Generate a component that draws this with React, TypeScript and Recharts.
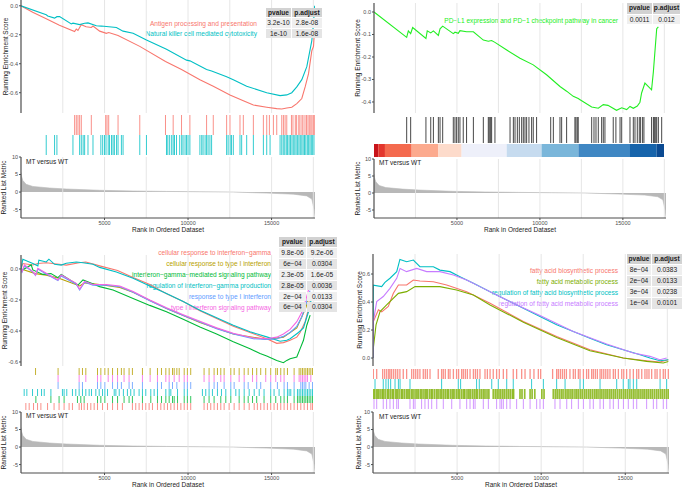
import React from 'react';
import {
  LineChart, Line, AreaChart, Area, ComposedChart, Scatter,
  XAxis, YAxis, ReferenceArea, ReferenceLine,
} from 'recharts';

const FONT = '"Liberation Sans", Arial, Helvetica, sans-serif';
const AXIS = '#4D4D4D';
const GRID = '#E3E3E3';

const RANK_MAX = 17600;
const RANK_TICKS = [5000, 10000, 15000];
const GRID_RANKS = [2500, 5000, 7500, 10000, 12500, 15000, 17500];
const METRIC_TICKS = [-5, 0, 5, 10];

// ranked list metric, [rank, metric]
const metricCurve = [
  [0, 5.6], [30, 4.5], [110, 3.3], [310, 2.2], [710, 1.6], [1710, 1.15], [2710, 0.87],
  [4710, 0.5], [6710, 0.3], [8710, 0.18], [10710, 0.08], [12710, 0], [14710, -0.3],
  [16310, -0.6], [17110, -1.1], [17410, -2], [17550, -5], [17600, -7.2],
];

// ---- panel A: antigen / NK
const esAntigen = [
  [0, 0], [700, -0.045], [1510, -0.09], [2300, -0.135], [3210, -0.178], [3310, -0.16], [3410, -0.17],
  [3510, -0.15], [3610, -0.13], [3900, -0.145], [4210, -0.15], [4310, -0.14], [4710, -0.175],
  [5110, -0.19], [5250, -0.185], [5810, -0.205], [7110, -0.28], [8650, -0.385], [9610, -0.44],
  [10710, -0.51], [11510, -0.555], [12510, -0.615], [13310, -0.655], [13910, -0.685], [14710, -0.7],
  [15310, -0.71], [15610, -0.712], [15910, -0.705], [16210, -0.7], [16510, -0.675], [16810, -0.64],
  [17010, -0.56], [17210, -0.47], [17410, -0.31], [17510, -0.28], [17560, -0.19],
];
const esNK = [
  [0, 0], [1510, -0.062], [1600, -0.07], [2010, -0.085], [2150, -0.075], [2310, -0.074], [3010, -0.125],
  [3110, -0.12], [3510, -0.13], [3810, -0.12], [4010, -0.118], [4510, -0.138], [4810, -0.14],
  [5110, -0.143], [5710, -0.15], [6110, -0.175], [6710, -0.19], [7510, -0.236], [8710, -0.3],
  [9910, -0.375], [10110, -0.38], [11110, -0.44], [11410, -0.45], [12310, -0.49], [12710, -0.51],
  [13510, -0.555], [14710, -0.6], [15510, -0.62], [15910, -0.615], [16210, -0.6], [16510, -0.56],
  [16810, -0.51], [17110, -0.42], [17410, -0.24], [17510, -0.12], [17580, 0],
];
const hitsAntigen = [
  3210, 3310, 3410, 3510, 3610, 4210, 5070, 5150, 5250, 5810, 7110, 8650, 9110, 9610, 10110, 11110,
  11510, 12310, 12510, 13110, 13310, 13910, 14510, 14710, 14870, 15110, 15310, 15610, 15710, 15810,
  15910, 16190, 16280, 16420, 16500, 16630, 16700, 16820, 16880, 17000, 17090, 17180, 17260, 17350,
  17420, 17500, 17560,
];
const hitsNK = [
  1510, 2010, 2150, 3110, 3510, 3610, 3720, 3810, 4010, 4310, 4780, 4890, 5000, 5090, 5220, 5300,
  5420, 5510, 5590, 5720, 5810, 6010, 6110, 7110, 7510, 8710, 8790, 8900, 9020, 9110, 9190, 9310,
  9500, 9620, 9700, 9820, 9910, 10000, 10110, 10710, 10820, 10900, 11020, 11110, 11200, 11310, 11410,
  12310, 12400, 12520, 12600, 12710, 13110, 13210, 13510, 13910, 14510, 14710, 14910, 15510, 15610,
  15700, 15790, 15880, 15960, 16050, 16130, 16220, 16300, 16390, 16470, 16560, 16640, 16720, 16810,
  16890, 16970, 17050, 17140, 17220, 17300, 17380, 17460, 17540,
];

// ---- panel B: PD-L1
const esPDL1 = [
  [0, 0], [1970, -0.113], [2070, -0.084], [2210, -0.096], [2330, -0.069], [3130, -0.118], [3210, -0.084],
  [3420, -0.093], [3580, -0.084], [3880, -0.104], [3980, -0.075], [4140, -0.063], [4780, -0.096],
  [4880, -0.09], [5080, -0.095], [5180, -0.083], [5580, -0.088], [5990, -0.088], [6590, -0.125],
  [6890, -0.13], [7090, -0.127], [7290, -0.135], [8000, -0.169], [8800, -0.206], [9600, -0.235],
  [10400, -0.279], [11210, -0.331], [11610, -0.352], [12010, -0.375], [12310, -0.385], [12420, -0.39],
  [13120, -0.422], [13520, -0.428], [13820, -0.412], [14100, -0.415], [14620, -0.437], [14930, -0.426],
  [15230, -0.434], [15430, -0.42], [15630, -0.428], [15870, -0.418], [16030, -0.401], [16130, -0.36],
  [16330, -0.316], [16730, -0.346], [16840, -0.265], [16940, -0.169], [17040, -0.074], [17140, -0.066],
];
const hitsPDL1 = [
  1970, 2210, 3130, 3420, 3580, 3880, 3980, 4140, 4780, 4880, 4980, 5080, 5180, 5380, 5580, 5990,
  6590, 6890, 6950, 7030, 7090, 7290, 8200, 8400, 8500, 8640, 8760, 8900, 9000, 9100, 9200, 9340,
  9500, 9600, 9800, 10650, 10810, 11210, 11310, 11610, 12110, 12170, 12250, 12310, 13120, 13260,
  13380, 13520, 13720, 13820, 13920, 14420, 14580, 14830, 14930, 15430, 15630, 15730, 15870, 15990,
  16070, 16190, 16270, 16730, 16840, 16900, 16980, 17040, 17140, 17340,
];
const heatEdges = [0, 260, 660, 2270, 3880, 5280, 8000, 10100, 12320, 15430, 17040, 17480];
const heatColors = [
  '#C8141B', '#E3362C', '#F46A4E', '#FCAA8E', '#FDDBCB', '#EEF0FA',
  '#C6DBEF', '#7AB6DA', '#3F87C3', '#1764AB', '#0B4A92',
];

// ---- panel C: interferon sets
const esIfnGammaResp = [
  [0, 0], [110, 0.035], [710, 0.026], [1010, 0.035], [1510, 0.04], [2280, 0.03], [2710, 0.025],
  [3480, 0.04], [3880, 0.045], [4380, 0.03], [4710, 0.02], [5780, -0.01], [6710, -0.055], [7710, -0.1],
  [8710, -0.16], [9710, -0.21], [10710, -0.27], [11710, -0.32], [12710, -0.37], [13710, -0.41],
  [14710, -0.45], [15310, -0.48], [15710, -0.475], [16110, -0.46], [16510, -0.44], [16710, -0.41],
  [17010, -0.34], [17210, -0.26], [17410, -0.15],
];
const esTypeIResp = [
  [0, 0], [870, -0.03], [1510, -0.04], [2270, -0.06], [3510, -0.11], [3810, -0.09], [4710, -0.1],
  [5910, -0.12], [6710, -0.15], [8710, -0.255], [10710, -0.345], [12710, -0.42], [14710, -0.455],
  [15710, -0.44], [16510, -0.38], [17050, -0.25], [17310, -0.16],
];
const esIfnGammaSignal = [
  [0, 0], [60, -0.008], [610, 0.026], [710, -0.006], [1310, -0.035], [1790, -0.03], [2210, -0.056],
  [2410, -0.035], [3410, -0.104], [3710, -0.071], [4710, -0.114], [5510, -0.136], [6710, -0.19],
  [7710, -0.235], [8710, -0.276], [9710, -0.325], [10710, -0.374], [11710, -0.42], [12710, -0.47],
  [13710, -0.515], [14310, -0.546], [14710, -0.562], [15310, -0.59], [15710, -0.605], [15910, -0.59],
  [16110, -0.579], [16510, -0.568], [16710, -0.514], [16910, -0.46], [17110, -0.363], [17310, -0.298],
];
const esIfnGammaProd = [
  [0, 0], [110, 0.063], [710, 0.035], [1010, 0.02], [1070, 0.056], [1510, 0.045], [1670, 0.063],
  [2010, 0.03], [2410, 0.025], [2710, 0.037], [3310, 0.045], [3710, 0.04], [4310, 0.03], [4710, 0.01],
  [5710, -0.02], [6710, -0.06], [7710, -0.11], [8710, -0.158], [9710, -0.21], [10710, -0.266],
  [11710, -0.315], [12710, -0.363], [13710, -0.405], [14710, -0.438], [15510, -0.466], [15910, -0.46],
  [16110, -0.45], [16610, -0.41], [16910, -0.38], [17210, -0.276], [17410, -0.18],
];
const esTypeI = [
  [0, 0], [60, -0.02], [210, 0.02], [710, -0.02], [870, -0.042], [1010, 0], [1510, -0.032],
  [2210, -0.075], [2410, -0.045], [3310, -0.098], [3510, -0.135], [3810, -0.085], [4310, -0.105],
  [5110, -0.105], [5910, -0.115], [6710, -0.15], [7710, -0.205], [8710, -0.255], [9710, -0.3],
  [10710, -0.342], [11710, -0.385], [12710, -0.42], [13910, -0.45], [14710, -0.455], [15310, -0.45],
  [15710, -0.435], [16110, -0.41], [16510, -0.37], [16810, -0.31], [17050, -0.23], [17300, -0.14],
];
const esTypeISignal = [
  [0, 0], [60, -0.017], [210, 0.026], [710, -0.017], [870, -0.039], [1010, 0.004], [1510, -0.028],
  [2210, -0.071], [2410, -0.039], [3310, -0.093], [3510, -0.13], [3810, -0.08], [4310, -0.1],
  [5110, -0.1], [5910, -0.11], [6710, -0.145], [7710, -0.2], [8710, -0.25], [9710, -0.295],
  [10710, -0.338], [11710, -0.38], [12710, -0.415], [13910, -0.445], [14710, -0.45], [15310, -0.44],
  [15710, -0.42], [16110, -0.39], [16510, -0.34], [16810, -0.28], [17050, -0.2], [17300, -0.1],
];
const hitsTypeIResp = [
  870, 2220, 3480, 3680, 3880, 4580, 4780, 5020, 5220, 5480, 5780, 6010, 6170, 6470, 6670, 7270, 7730,
  8170, 8410, 8670, 8870, 9070, 9170, 9330, 9470, 9770, 9960, 10160, 10960, 11260, 11560, 11760, 11960,
  12160, 12560, 12760, 13060, 13360, 13600, 13860, 14110, 14350, 14650, 14950, 15250, 15350, 15550,
  15750, 15950, 16350, 16650, 16750, 16850, 16950, 17050, 17150, 17250, 17350, 17450,
];
const hitsTypeISignal = [
  2220, 3480, 3880, 4580, 4780, 5220, 5480, 5780, 6170, 6470, 7270, 7730, 8170, 8670, 8870, 9170, 9470,
  9770, 9960, 10960, 11260, 11560, 11960, 12160, 12560, 13060, 13360, 13860, 14110, 14650, 14950, 15250,
  15550, 15750, 16350, 16650, 16750, 16850, 16950, 17050, 17150, 17350,
];
const hitsTypeI = [
  2220, 3480, 3680, 4580, 4780, 5020, 5480, 5780, 6010, 6470, 6670, 7270, 8170, 8410, 8870, 9070, 9330,
  9770, 9960, 10160, 11260, 11560, 11760, 12160, 12560, 12760, 13360, 13600, 14110, 14350, 14950, 15350,
  15750, 15950, 16350, 16750, 16850, 16950, 17050, 17250, 17450,
];
const hitsIfnGammaProd = [
  190, 350, 690, 990, 1230, 1390, 1790, 2480, 2580, 2740, 3080, 3280, 3480, 3680, 3880, 4080, 4220,
  4480, 4680, 4880, 5020, 5180, 5580, 5680, 5880, 6130, 6370, 6570, 6770, 7070, 7270, 7470, 7770, 7970,
  8170, 8670, 8870, 8970, 9370, 9770, 9960, 10860, 11060, 11260, 11460, 11760, 12000, 12260, 12560,
  12860, 13060, 13360, 13660, 13960, 14260, 14550, 14950, 15150, 15450, 15750, 15950, 16050, 16150,
  16350, 16550, 16650, 16750, 16850, 16950, 17050, 17150, 17250, 17350, 17450,
];
const hitsIfnGammaSignal = [
  890, 1790, 2280, 2580, 3380, 3580, 3780, 4580, 4780, 5020, 5480, 5780, 6170, 6470, 6670, 7270, 7770,
  8170, 8410, 8670, 8870, 9070, 9170, 9370, 9770, 9960, 10160, 10960, 11260, 11560, 11960, 12260,
  12560, 13060, 13360, 13600, 13860, 14110, 14550, 14950, 15250, 15550, 15750, 15950, 16350, 16550,
  16650, 16750, 16850, 16950, 17050, 17150, 17250, 17350, 17450,
];
const hitsIfnGammaResp = [
  290, 490, 750, 990, 1190, 1590, 1980, 2280, 2580, 2880, 3080, 3480, 3620, 3780, 3980, 4180, 4380,
  4580, 4880, 5180, 5480, 5780, 6070, 6670, 6870, 7070, 7270, 7470, 7670, 7870, 8170, 8370, 8570, 8770,
  8970, 9170, 9370, 9570, 9770, 9960, 10160, 10960, 11160, 11360, 11560, 11760, 11960, 12160, 12460,
  12760, 13060, 13360, 13660, 13960, 14150, 14350, 14550, 14750, 14950, 15150, 15350, 15550, 15750,
  15950, 16150, 16350, 16550, 16750, 16950, 17150, 17350, 17450,
];

// ---- panel D: fatty acid sets
const esFaBio = [
  [0, 0], [20, 0.26], [320, 0.344], [520, 0.33], [910, 0.368], [1210, 0.462], [1510, 0.522],
  [2000, 0.522], [2400, 0.557], [2790, 0.55], [3590, 0.545], [4380, 0.522], [5570, 0.474],
  [6960, 0.391], [8940, 0.261], [10920, 0.154], [12900, 0.059], [14880, 0], [16270, -0.019],
  [17060, -0.028], [17560, -0.012],
];
const esFaMeta = [
  [0, 0], [20, 0.071], [180, 0.237], [420, 0.332], [810, 0.379], [1510, 0.462], [2000, 0.474],
  [2500, 0.51], [3190, 0.51], [3980, 0.51], [4970, 0.486], [5970, 0.45], [6960, 0.379], [8940, 0.256],
  [10920, 0.147], [12900, 0.052], [14880, 0], [16270, -0.024], [17260, -0.036], [17560, -0.025],
];
const esFaBioReg = [
  [0, 0], [20, 0.52], [515, 0.51], [710, 0.54], [1010, 0.57], [1410, 0.617], [1600, 0.704],
  [2000, 0.688], [2400, 0.7], [2790, 0.652], [3590, 0.652], [3980, 0.628], [4580, 0.617],
  [5170, 0.581], [5970, 0.534], [6960, 0.474], [7950, 0.415], [8940, 0.356], [9930, 0.296],
  [10920, 0.237], [11910, 0.19], [12900, 0.142], [13890, 0.095], [14880, 0.059], [15880, 0.024],
  [16470, 0], [17060, -0.019], [17560, -0.012],
];
const esFaMetaReg = [
  [0, 0], [20, 0.26], [220, 0.403], [610, 0.439], [1010, 0.498], [1410, 0.569], [1610, 0.64],
  [2000, 0.617], [2600, 0.64], [3190, 0.617], [3980, 0.617], [4780, 0.593], [5570, 0.557],
  [6360, 0.51], [7350, 0.45], [8340, 0.391], [9930, 0.303], [11910, 0.19], [13890, 0.1],
  [15480, 0.036], [16470, 0.012], [17060, -0.012], [17460, 0],
];
const hitsFaBio = [
  20, 220, 575, 695, 815, 935, 1010, 1110, 1230, 1350, 1470, 1600, 1800, 2000, 2300, 2420, 2540, 2660,
  2790, 2990, 3110, 3230, 3390, 3880, 4080, 4180, 4300, 4480, 4580, 4780, 4970, 5090, 5270, 5370, 5490,
  5610, 5770, 5970, 6090, 6210, 6360, 6660, 6800, 6960, 7150, 7350, 7510, 7750, 7950, 8340, 8540, 8840,
  9040, 9340, 9570, 9830, 9970, 10680, 10920, 11020, 11140, 11260, 11380, 11500, 11710, 11910, 12030,
  12210, 12310, 12510, 12700, 12820, 13000, 13100, 13220, 13340, 13500, 13600, 13720, 13840, 13960,
  14090, 14290, 14410, 14590, 14790, 14910, 15080, 15280, 15480, 15680, 15800, 15980, 16170, 16290,
  16410, 16570, 16770, 16890, 17070, 17260, 17380, 17560,
];
const hitsFaBioReg = [
  120, 610, 770, 910, 1050, 1310, 1510, 1610, 2200, 4080, 5070, 5210, 6160, 6320, 7060, 7450, 7950,
  8340, 9430, 10130, 10920, 11420, 12310, 12510, 13500, 14490, 14880, 15180, 15280, 15480, 15680,
  17070, 17460,
];
const hitsFaMeta = [
  20, 110, 230, 310, 420, 540, 610, 720, 850, 930, 1040, 1150, 1230, 1360, 1440, 1550, 1680, 1760,
  1870, 1990, 2080, 2170, 2290, 2380, 2500, 2610, 2700, 2820, 2910, 3030, 3140, 3220, 3350, 3460,
  3540, 3660, 3780, 3870, 3990, 4090, 4200, 4310, 4420, 4500, 4630, 4740, 4820, 4950, 5060, 5150,
  5270, 5380, 5460, 5590, 5700, 5790, 5910, 6020, 6130, 6210, 6340, 6450, 6560, 6660, 6780, 6890,
  7150, 7270, 7380, 7490, 7600, 7720, 7830, 7950, 8060, 8170, 8290, 8360, 8740, 8860, 9020, 9340,
  9460, 9620, 10040, 10170, 10720, 10840, 10950, 11070, 11190, 11300, 11430, 11540, 11650, 11770,
  11880, 12010, 12120, 12230, 12350, 12460, 12580, 12690, 12810, 12920, 13040, 13160, 13270, 13380,
  13500, 13610, 13730, 13850, 13960, 14080, 14190, 14310, 14420, 14540, 14660, 14770, 14890, 15000,
  15120, 15240, 15350, 15470, 15580, 15700, 15810, 15930, 16050, 16160, 16280, 16390, 16510, 16620,
  16740, 16860, 16970, 17090, 17200, 17320, 17440, 17550,
];
const hitsFaMetaReg = [
  60, 220, 610, 810, 1010, 1210, 1410, 1510, 2200, 2400, 2500, 2890, 3090, 3290, 3490, 3790, 4180,
  4680, 5170, 5570, 5770, 5970, 6070, 6560, 6860, 7350, 7550, 7650, 7750, 7950, 8150, 8540, 8940,
  9340, 9730, 9930, 10130, 10820, 11120, 11520, 11810, 12210, 12510, 12900, 13100, 13500, 13700,
  14090, 14290, 14590, 14890, 15180, 15480, 15680, 16270, 16670, 16870, 17260, 17460,
];

const RED = '#F8766D';

const panels = [
  {
    axisX: 21, yw: 21, plotW: 294,
    es: { top: 0, height: 113, domain: [-0.74, 0.04], ticks: [-0.6, -0.4, -0.2, 0], titleOffset: 5.5 },
    series: [
      { name: 'Antigen processing and presentation', color: RED, points: esAntigen },
      { name: 'Natural killer cell mediated cytotoxicity', color: '#00BFC4', points: esNK },
    ],
    hits: {
      top: 115, height: 40,
      rows: [
        { color: RED, hits: hitsAntigen, y0: 0, y1: 20 },
        { color: '#00BFC4', hits: hitsNK, y0: 20, y1: 40 },
      ],
    },
    rank: { top: 157, plotH: 61, domain: [-7.4, 10], titleOffset: 4 },
    legend: { right: 257, centers: [24, 34] },
    table: { x: 266, y: 8, cols: [26, 31], rowHs: [10, 10.5, 10.5], pvalue: ['3.2e-10', '1e-10'], padj: ['2.8e-08', '1.6e-08'] },
    mt: { x: 26, y: 162 },
  },
  {
    axisX: 374, yw: 22, plotW: 292,
    es: { top: 3, height: 110, domain: [-0.449, 0.04], ticks: [-0.4, -0.3, -0.2, -0.1, 0], titleOffset: 5.5 },
    series: [
      { name: 'PD\u2212L1 expression and PD\u22121 checkpoint pathway in cancer', color: '#22EE22', points: esPDL1 },
    ],
    hits: {
      top: 117, height: 40, heat: true,
      rows: [{ color: '#1A1A1A', hits: hitsPDL1, y0: 0, y1: 26 }],
    },
    rank: { top: 159, plotH: 59, domain: [-7.35, 10], titleOffset: 5.5 },
    legend: { right: 618, centers: [21] },
    table: { x: 627, y: 3, cols: [26, 28], rowHs: [11.5, 10.5], pvalue: ['0.0011'], padj: ['0.012'] },
    mt: { x: 379, y: 163 },
  },
  {
    axisX: 21, yw: 21, plotW: 294,
    es: { top: 255, height: 111, domain: [-0.626, 0.09], ticks: [-0.6, -0.4, -0.2, 0], titleOffset: 5 },
    series: [
      { name: 'cellular response to interferon\u2212gamma', color: RED, points: esIfnGammaResp },
      { name: 'cellular response to type I interferon', color: '#B79F00', points: esTypeIResp },
      { name: 'interferon\u2212gamma\u2212mediated signaling pathway', color: '#00BA38', points: esIfnGammaSignal },
      { name: 'regulation of interferon\u2212gamma production', color: '#00BFC4', points: esIfnGammaProd },
      { name: 'response to type I interferon', color: '#619CFF', points: esTypeI },
      { name: 'type I interferon signaling pathway', color: '#F564E3', points: esTypeISignal },
    ],
    hits: {
      top: 368, height: 42,
      rows: [
        { color: '#B79F00', hits: hitsTypeIResp, y0: 0, y1: 7 },
        { color: '#F564E3', hits: hitsTypeISignal, y0: 7, y1: 14 },
        { color: '#619CFF', hits: hitsTypeI, y0: 14, y1: 21 },
        { color: '#00BFC4', hits: hitsIfnGammaProd, y0: 21, y1: 28 },
        { color: '#00BA38', hits: hitsIfnGammaSignal, y0: 28, y1: 35 },
        { color: RED, hits: hitsIfnGammaResp, y0: 35, y1: 42 },
      ],
    },
    rank: { top: 412, plotH: 61, domain: [-7.4, 10], titleOffset: 4 },
    legend: { right: 271, centers: [253, 264, 275, 286, 297, 308] },
    table: {
      x: 279, y: 237, cols: [28, 31], rowHs: [10.9],
      pvalue: ['9.8e-06', '6e\u221204', '2.3e-05', '2.8e-05', '2e\u221204', '6e\u221204'],
      padj: ['9.2e-06', '0.0304', '1.6e-05', '0.0036', '0.0133', '0.0304'],
    },
    mt: { x: 26, y: 416 },
  },
  {
    axisX: 373, yw: 20, plotW: 296,
    es: { top: 254, height: 112, domain: [-0.057, 0.743], ticks: [0, 0.2, 0.4, 0.6], titleOffset: 6.5 },
    series: [
      { name: 'fatty acid biosynthetic process', color: RED, points: esFaBio },
      { name: 'fatty acid metabolic process', color: '#7CAE00', points: esFaMeta },
      { name: 'regulation of fatty acid biosynthetic process', color: '#00BFC4', points: esFaBioReg },
      { name: 'regulation of fatty acid metabolic process', color: '#C77CFF', points: esFaMetaReg },
    ],
    hits: {
      top: 369, height: 40,
      rows: [
        { color: RED, hits: hitsFaBio, y0: 0, y1: 10, w: 1.3 },
        { color: '#00BFC4', hits: hitsFaBioReg, y0: 10, y1: 20 },
        { color: '#7CAE00', hits: hitsFaMeta, y0: 20, y1: 30, w: 1.7 },
        { color: '#C77CFF', hits: hitsFaMetaReg, y0: 30, y1: 40 },
      ],
    },
    rank: { top: 412, plotH: 61, domain: [-7.4, 10], titleOffset: 6 },
    legend: { right: 618, centers: [271, 282, 293, 304] },
    table: {
      x: 627, y: 254, cols: [25, 31], rowHs: [10.5, 11.3],
      pvalue: ['8e\u221204', '2e\u221204', '3e\u221204', '1e\u221204'],
      padj: ['0.0383', '0.0133', '0.0238', '0.0101'],
    },
    mt: { x: 379, y: 417 },
  },
];

const tickStyle = { fontSize: 5.5, fill: AXIS, fontFamily: FONT };
const titleStyle = { textAnchor: 'middle', fontSize: 6.5, fill: '#1A1A1A', fontFamily: FONT } as any;
const PAD_TOP = 5; // room for the top tick label

const gridLines = GRID_RANKS.map((v) => (
  <ReferenceLine key={'g' + v} x={v} stroke={GRID} strokeWidth={0.9} ifOverflow="hidden" />
));

function EsPlot({ p }: { p: any }) {
  const { es } = p;
  return (
    <div style={{ position: 'absolute', left: p.axisX - p.yw, top: es.top - PAD_TOP }}>
      <LineChart width={p.yw + p.plotW} height={es.height + PAD_TOP} margin={{ top: PAD_TOP, right: 0, bottom: 0, left: 0 }}>
        <XAxis type="number" dataKey="x" domain={[0, RANK_MAX]} hide allowDataOverflow />
        <YAxis
          type="number" domain={es.domain} ticks={es.ticks} interval={0} width={p.yw} allowDataOverflow
          tick={tickStyle} tickSize={2} tickMargin={1} tickFormatter={(v: number) => v.toFixed(1)}
          axisLine={{ stroke: AXIS, strokeWidth: 1.2 }} tickLine={{ stroke: AXIS }}
          label={{ value: 'Running Enrichment Score', angle: -90, position: 'insideLeft', offset: es.titleOffset, style: titleStyle }}
        />
        {gridLines}
        {p.series.map((s: any) => (
          <Line
            key={s.name} data={s.points.map(([x, y]: number[]) => ({ x, y }))} dataKey="y"
            type="linear" stroke={s.color} strokeWidth={1.1} dot={false} isAnimationActive={false}
          />
        ))}
      </LineChart>
    </div>
  );
}

function HitsPlot({ p }: { p: any }) {
  const { hits } = p;
  return (
    <div style={{ position: 'absolute', left: p.axisX, top: hits.top }}>
      <ComposedChart width={p.plotW} height={hits.height} margin={{ top: 0, right: 0, bottom: 0, left: 0 }}>
        <XAxis type="number" dataKey="x" domain={[0, RANK_MAX]} hide allowDataOverflow />
        <YAxis type="number" dataKey="y" domain={[0, hits.height]} reversed hide allowDataOverflow />
        {hits.heat && heatColors.map((c, i) => (
          <ReferenceArea key={c} x1={heatEdges[i]} x2={heatEdges[i + 1]} y1={27} y2={hits.height} fill={c} fillOpacity={1} stroke="none" />
        ))}
        {hits.rows.map((r: any, i: number) => {
          const half = (r.y1 - r.y0) / 2;
          const mid = (r.y0 + r.y1) / 2;
          return (
            <Scatter
              key={i} data={r.hits.map((x: number) => ({ x, y: mid }))} isAnimationActive={false}
              shape={(s: any) => (
                <line x1={s.cx} x2={s.cx} y1={s.cy - half} y2={s.cy + half}
                  stroke={r.color} strokeWidth={r.w ?? 1} strokeOpacity={0.8} />
              )}
            />
          );
        })}
      </ComposedChart>
    </div>
  );
}

function RankPlot({ p }: { p: any }) {
  const { rank } = p;
  const data = metricCurve.map(([x, y]) => ({ x, y }));
  return (
    <div style={{ position: 'absolute', left: p.axisX - p.yw, top: rank.top - PAD_TOP }}>
      <AreaChart width={p.yw + p.plotW} height={rank.plotH + 14 + PAD_TOP} data={data} margin={{ top: PAD_TOP, right: 0, bottom: 0, left: 0 }}>
        <XAxis
          type="number" dataKey="x" domain={[0, RANK_MAX]} ticks={RANK_TICKS} interval={0} height={14} allowDataOverflow
          tick={tickStyle} tickSize={2} tickMargin={1}
          axisLine={{ stroke: AXIS, strokeWidth: 1.2 }} tickLine={{ stroke: AXIS }}
          label={{ value: 'Rank in Ordered Dataset', position: 'insideBottom', offset: 0, style: titleStyle }}
        />
        <YAxis
          type="number" domain={rank.domain} ticks={METRIC_TICKS} interval={0} width={p.yw} allowDataOverflow
          tick={tickStyle} tickSize={2} tickMargin={1}
          axisLine={{ stroke: AXIS, strokeWidth: 1.2 }} tickLine={{ stroke: AXIS }}
          label={{ value: 'Ranked List Metric', angle: -90, position: 'insideLeft', offset: rank.titleOffset, style: titleStyle }}
        />
        {gridLines}
        <Area dataKey="y" type="linear" baseValue={0} stroke="#B8B8B8" strokeWidth={0.6} fill="#B8B8B8" fillOpacity={1} isAnimationActive={false} />
      </AreaChart>
    </div>
  );
}

function StatTable({ t }: { t: any }) {
  const rows = [['pvalue', 'p.adjust'], ...t.pvalue.map((v: string, i: number) => [v, t.padj[i]])];
  const cells: any[] = [];
  let top = t.y;
  rows.forEach((r: string[], ri: number) => {
    const h = t.rowHs[Math.min(ri, t.rowHs.length - 1)];
    let left = t.x;
    r.forEach((txt, ci) => {
      cells.push(
        <div key={ri + '-' + ci} style={{
          position: 'absolute', left, top, width: t.cols[ci] - 1, height: h - 1,
          background: ri === 0 ? '#D2D2D2' : ri % 2 ? '#EFEFEF' : '#E4E4E4',
          fontWeight: ri === 0 ? 700 : 400, fontSize: 6.6, lineHeight: h - 1 + 'px',
          textAlign: 'center', color: '#1A1A1A', fontFamily: FONT, whiteSpace: 'nowrap',
        }}>{txt}</div>,
      );
      left += t.cols[ci];
    });
    top += h;
  });
  return <>{cells}</>;
}

export default function App() {
  return (
    <div style={{ position: 'absolute', left: 0, top: 0, width: 685, height: 488, background: '#fff', overflow: 'hidden', fontFamily: FONT }}>
      {panels.map((p, pi) => (
        <React.Fragment key={pi}>
          {p.series.map((s: any, i: number) => (
            <div key={s.name} style={{
              position: 'absolute', right: 685 - p.legend.right, top: p.legend.centers[i] - 5,
              lineHeight: '10px', fontSize: 6.6, color: s.color, whiteSpace: 'nowrap',
            }}>{s.name}</div>
          ))}
          <EsPlot p={p} />
          <HitsPlot p={p} />
          <RankPlot p={p} />
          <div style={{
            position: 'absolute', left: p.mt.x, top: p.mt.y - 5, lineHeight: '10px',
            fontSize: 6.5, color: '#1A1A1A', whiteSpace: 'nowrap',
          }}>MT versus WT</div>
          <StatTable t={p.table} />
        </React.Fragment>
      ))}
    </div>
  );
}
